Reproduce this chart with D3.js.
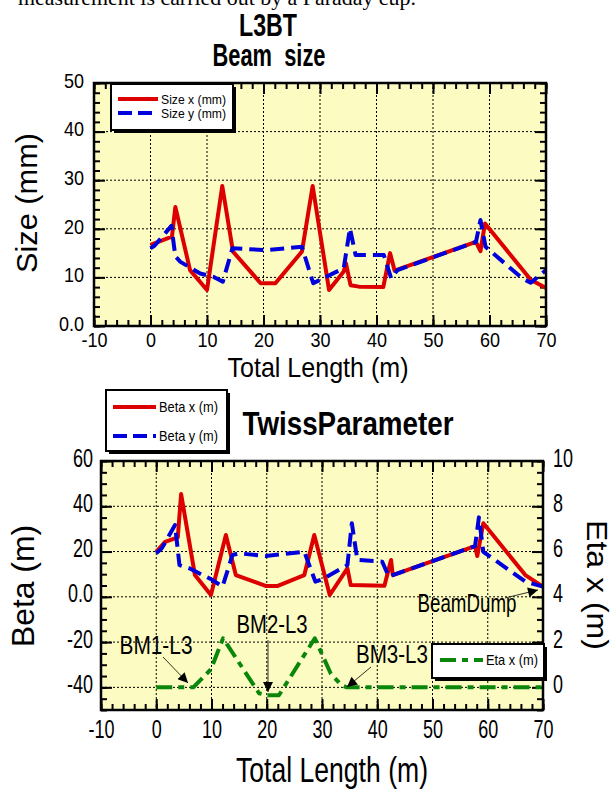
<!DOCTYPE html>
<html>
<head>
<meta charset="utf-8">
<script src="https://cdn.jsdelivr.net/npm/d3@7"></script>
<style>
body { margin: 0; background: #fff; }
text { font-family: "Liberation Sans Narrow", "Liberation Sans", Arial, sans-serif; fill: #000; }
</style>
</head>
<body>
<script>

// top panel: beam size along the line [s (m), size (mm)]
var sizeX = [[0,16.7],[3.8,18.4],[4.4,24.5],[7.0,11.5],[10.0,7.4],[12.7,28.8],[14.6,15.3],[19.5,8.8],[22.1,8.8],
    [26.8,15.3],[28.7,28.8],[31.6,7.4],[34.2,11.2],[34.6,12.9],[35.4,8.4],[36.9,8.1],[41.2,8.0],[42.4,15.0],
    [43.2,11.4],[57.6,17.3],[58.4,15.4],[59.2,21.1],[67.3,9.5],[70,7.8]];
var sizeY = [[0,16.0],[0.7,16.5],[3.7,20.6],[4.4,14.3],[5.3,13.2],[8.8,10.8],[11.2,10.1],[12.8,9.1],[14.5,16.0],
    [20.6,15.6],[26.8,16.3],[28.8,8.8],[34.2,11.9],[35.3,20.1],[36.3,14.6],[41.3,14.6],[42.6,9.8],[43.7,11.5],
    [57.6,17.3],[58.4,21.8],[59.3,16.3],[65.8,9.8],[67.3,8.9],[70,11.5]];

// bottom panel: twiss parameters [s (m), beta (m)] and [s (m), eta (m)]
var betaX = [[0,19.9],[1.6,24.3],[3.9,26.3],[4.5,45.4],[7.0,9.6],[9.9,0.8],[12.6,27.3],[14.4,9.6],[19.8,4.8],
    [22.0,4.8],[26.8,9.6],[28.6,27.3],[31.4,0.8],[34.6,12.6],[35.2,5.2],[41.3,4.9],[42.5,16.3],[42.8,9.6],
    [57.7,22.4],[58.1,18],[59.2,32.5],[66.8,9.6],[70,4.5]];
var betaY = [[0,19.2],[1.0,21.4],[3.4,31.7],[4.2,14],[6.0,12.6],[10.2,7.4],[12.0,4.5],[13.8,18.5],[15.0,19.2],
    [19.8,18],[26.8,19.9],[28.8,6.7],[30,7.7],[34.6,14],[35.4,32.5],[36.4,16.3],[40.9,15.5],[42.1,8.9],
    [42.8,9.6],[57.7,22.4],[58.4,35.1],[59.2,19.9],[66.8,6.7],[70,4.5]];
var etaX = [[0,0],[6.7,0],[9.9,0.8],[12.1,2.17],[18.6,-0.26],[20,-0.35],[22.2,-0.35],[28.7,2.17],
    [31.6,0.6],[33.5,0.1],[34.5,0],[70,0]];

// tick labels
var sTicks = [-10,0,10,20,30,40,50,60,70];
var sizeTicks = [0,10,20,30,40,50];
var betaTicks = [-40,-20,0,20,40,60];
var etaTicks = [0,2,4,6,8,10];

// annotations along the line
var magnets = [
    {name: 'BM1-L3', tx: 156, ty: 654, w: 73, from: [163,657], to: [188,683]},
    {name: 'BM2-L3', tx: 272, ty: 633, w: 71, from: [268,640], to: [268,692]},
    {name: 'BM3-L3', tx: 392, ty: 663, w: 72, from: [371,667], to: [347,687]},
    {name: 'BeamDump', tx: 467, ty: 612, w: 99, from: [505,598], to: [538,590]}
];

var red = '#dd0000', blue = '#0000dd', green = '#0a870a', paper = '#fbfbc2';

var svg = d3.select('body').append('svg')
    .attr('width', 614)
    .attr('height', 789);

svg.append('defs').append('marker')
    .attr('id', 'head')
    .attr('markerUnits', 'userSpaceOnUse')
    .attr('viewBox', '0 0 10 10')
    .attr('refX', 10).attr('refY', 5)
    .attr('markerWidth', 12).attr('markerHeight', 10)
    .attr('orient', 'auto')
    .append('path').attr('d', 'M0,0L10,5L0,10Z').attr('fill', '#000');

// width of a narrow tick label
function labelWidth(s){
    var w = 0;
    s.split('').forEach(function(c){ w += (c == '-') ? 6 : (c == '.') ? 5 : 10; });
    return w;
}

function fmt(d){ return d == 0 ? '0.0' : String(d); }

function title(txt, x, y, size, len, bold, rot){
    var t = svg.append('text')
        .attr('transform', 'translate(' + x + ',' + y + ')' + (rot ? ' rotate(' + rot + ')' : ''))
        .attr('text-anchor', 'middle')
        .style('font-family', '"Liberation Sans", Arial, sans-serif')
        .style('font-size', size + 'px')
        .style('font-weight', bold ? 'bold' : 'normal')
        .style('white-space', 'pre')
        .attr('textLength', len)
        .attr('lengthAdjust', 'spacingAndGlyphs')
        .text(txt);
    return t;
}

function axisGroup(axis, tx, ty, fontSize, dy){
    var g = svg.append('g')
        .attr('transform', 'translate(' + tx + ',' + ty + ')')
        .call(axis);
    g.select('.domain').remove();
    g.selectAll('.tick line').attr('stroke', '#000').attr('stroke-width', 2);
    g.selectAll('.tick text')
        .style('font-size', fontSize + 'px')
        .attr('fill', '#000')
        .attr('textLength', function(){ return labelWidth(this.textContent) || null; })
        .attr('lengthAdjust', 'spacingAndGlyphs');
    if (dy != null) g.selectAll('.tick text').attr('dy', dy);
    return g;
}

function range(a, b, step){
    var out = [];
    for (var v = a; v <= b + 1e-9; v += step) out.push(+v.toFixed(3));
    return out;
}

function panel(x, y, yTicks, yMinor, fontSize, pads){
    var x0 = x.range()[0], x1 = x.range()[1], y0 = y.range()[1], y1 = y.range()[0];
    svg.append('rect').attr('x', x0).attr('y', y0).attr('width', x1 - x0).attr('height', y1 - y0)
        .attr('fill', paper);

    // dotted grid
    var grid = svg.append('g').attr('stroke', '#000').attr('stroke-width', 1).attr('stroke-dasharray', '2,2');
    grid.selectAll('.v').data(sTicks.slice(1, -1)).enter().append('line')
        .attr('x1', function(d){ return x(d); }).attr('x2', function(d){ return x(d); })
        .attr('y1', y0).attr('y2', y1);
    grid.selectAll('.h').data(yTicks.filter(function(d){ return y(d) > y0 + 1 && y(d) < y1 - 1; })).enter().append('line')
        .attr('y1', function(d){ return y(d); }).attr('y2', function(d){ return y(d); })
        .attr('x1', x0).attr('x2', x1);

    var xMinor = range(-10, 70, 2);
    axisGroup(d3.axisBottom(x).tickValues(xMinor).tickSize(-6).tickFormat(''), 0, y1);
    axisGroup(d3.axisTop(x).tickValues(xMinor).tickSize(-6).tickFormat(''), 0, y0);
    axisGroup(d3.axisBottom(x).tickValues(sTicks).tickSize(-11).tickPadding(pads[0]).tickFormat(function(d){ return d; }),
        0, y1, fontSize);
    axisGroup(d3.axisTop(x).tickValues(sTicks).tickSize(-11).tickFormat(''), 0, y0);

    axisGroup(d3.axisLeft(y).tickValues(yMinor).tickSize(-6).tickFormat(''), x0, 0);
    axisGroup(d3.axisRight(y).tickValues(yMinor).tickSize(-6).tickFormat(''), x1, 0);
    axisGroup(d3.axisLeft(y).tickValues(yTicks).tickSize(-11).tickPadding(pads[1]).tickFormat(fmt), x0, 0, fontSize, '0.2em');
    axisGroup(d3.axisRight(y).tickValues(yTicks).tickSize(-11).tickFormat(''), x1, 0);
}

function frame(x, y){
    var x0 = x.range()[0], x1 = x.range()[1], y0 = y.range()[1], y1 = y.range()[0];
    svg.append('rect').attr('x', x0).attr('y', y0).attr('width', x1 - x0).attr('height', y1 - y0)
        .attr('fill', 'none').attr('stroke', '#000').attr('stroke-width', 2.5);
}

function series(data, x, y, color, dash){
    var line = d3.line().x(function(d){ return x(d[0]); }).y(function(d){ return y(d[1]); });
    svg.append('path').datum(data)
        .attr('d', line)
        .attr('fill', 'none')
        .attr('stroke', color)
        .attr('stroke-width', 4)
        .attr('stroke-linejoin', 'round')
        .attr('stroke-dasharray', dash || null);
}

function legend(x, y, w, h, items){
    svg.append('rect').attr('x', x + 3).attr('y', y + 3).attr('width', w).attr('height', h).attr('fill', '#000');
    svg.append('rect').attr('x', x).attr('y', y).attr('width', w).attr('height', h)
        .attr('fill', '#fff').attr('stroke', '#000').attr('stroke-width', 2);
    items.forEach(function(it){
        svg.append('line').attr('x1', it.x1).attr('x2', it.x2).attr('y1', it.y).attr('y2', it.y)
            .attr('stroke', it.color).attr('stroke-width', 4).attr('stroke-dasharray', it.dash || null);
        svg.append('text').attr('x', it.x2 + 3).attr('y', it.y + 5)
            .style('font-size', it.size + 'px').attr('fill', it.color)
            .attr('textLength', it.w).attr('lengthAdjust', 'spacingAndGlyphs')
            .text(it.label);
    });
}

// cut-off line of the surrounding document
svg.append('text').attr('x', 18).attr('y', 5)
    .style('font-family', '"Liberation Serif", "Times New Roman", serif')
    .style('font-size', '21px')
    .attr('textLength', 398).attr('lengthAdjust', 'spacingAndGlyphs')
    .text('measurement is carried out by a Faraday cup.');

// ---------- Beam size ----------
var xs = d3.scaleLinear().domain([-10, 70]).range([94, 546]);
var ys = d3.scaleLinear().domain([0, 50]).range([326, 83]);

title('L3BT', 268, 36, 31, 58, true);
title('Beam  size', 269, 66, 31, 113, true);

panel(xs, ys, sizeTicks, range(0, 50, 2), 21, [6, 10]);
series(sizeX, xs, ys, red);
series(sizeY, xs, ys, blue, '14,7');
frame(xs, ys);

title('Size (mm)', 37, 203, 30, 140, false, -90);
title('Total Length (m)', 318, 377, 28, 181, false);

legend(111, 84, 122, 46, [
    {x1: 118, x2: 158, y: 99, color: red, label: 'Size x (mm)', w: 65, size: 13},
    {x1: 118, x2: 158, y: 113, color: blue, dash: '14,6', label: 'Size y (mm)', w: 65, size: 13}
]);

// ---------- Twiss parameters ----------
var xt = d3.scaleLinear().domain([-10, 70]).range([101, 543]);
var yb = d3.scaleLinear().domain([-50, 60]).range([710, 461]);
var ye = d3.scaleLinear().domain([-1, 10]).range([710, 461]);

title('TwissParameter', 348, 435, 33, 211, true);

panel(xt, yb, betaTicks, range(-50, 60, 5), 25, [10, 8]);
axisGroup(d3.axisRight(ye).tickValues(etaTicks).tickSize(0).tickPadding(10), 543, 0, 25, '0.2em');

series(etaX, xt, ye, green, '16,6,6,6');
series(betaX, xt, yb, red);
series(betaY, xt, yb, blue, '14,7');
frame(xt, yb);

// magnet labels with arrows
magnets.forEach(function(m){
    svg.append('line')
        .attr('x1', m.from[0]).attr('y1', m.from[1])
        .attr('x2', m.to[0]).attr('y2', m.to[1])
        .attr('stroke', '#000').attr('stroke-width', 0.8)
        .attr('marker-end', 'url(#head)');
    svg.append('text').attr('x', m.tx).attr('y', m.ty)
        .attr('text-anchor', 'middle')
        .style('font-size', '25px')
        .attr('textLength', m.w).attr('lengthAdjust', 'spacingAndGlyphs')
        .text(m.name);
});

legend(106, 390, 121, 61, [
    {x1: 113, x2: 156, y: 407, color: red, label: 'Beta x (m)', w: 59, size: 15},
    {x1: 113, x2: 156, y: 436, color: blue, dash: '14,6', label: 'Beta y (m)', w: 59, size: 15}
]);
legend(432, 644, 112, 34, [
    {x1: 440, x2: 483, y: 660, color: green, dash: '16,6,6,6', label: 'Eta x (m)', w: 52, size: 15}
]);

title('Beta (m)', 34, 586, 31, 122, false, -90);
title('Eta x (m)', 587, 585, 29, 130, false, 90);
title('Total Length (m)', 332, 782, 35, 192, false);

</script>
</body>
</html>
